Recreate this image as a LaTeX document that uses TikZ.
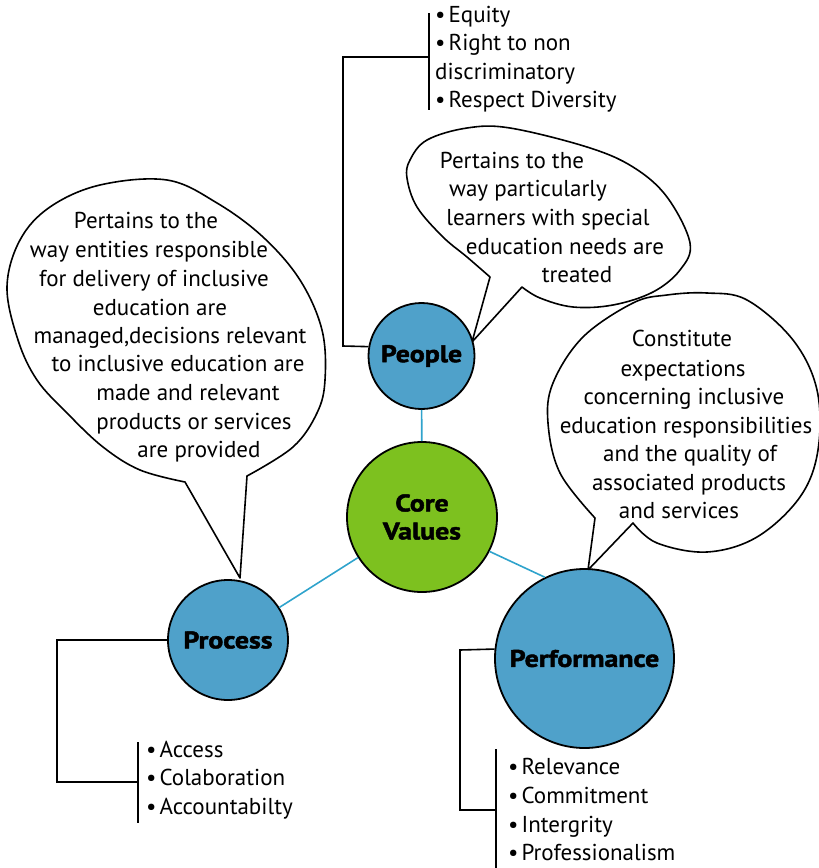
\documentclass[tikz,border=0pt]{standalone}
\usepackage{fontspec}
\setmainfont{PT Sans}
\newfontfamily\heavyfont{PT Sans}[FakeBold=2, FakeStretch=1.16]
\definecolor{nodeblue}{HTML}{4FA1CA}
\definecolor{coregreen}{HTML}{7DC11F}
\definecolor{linkblue}{HTML}{2FA3CC}
\newcommand\bu{•\kern3pt}
\tikzset{
  bubble/.style={draw=black, line width=1.6pt, fill=white, line join=round},
  btext/.style={anchor=base, inner sep=0pt, font=\fontsize{23}{28}\selectfont},
  bul/.style={anchor=base west, inner sep=0pt, font=\fontsize{23}{28}\selectfont},
  circ/.style={circle, draw=black, line width=1.8pt, inner sep=0pt, align=center,
    font=\fontsize{24}{28}\heavyfont\bfseries},
  link/.style={draw=linkblue, line width=1.6pt},
  brk/.style={draw=black, line width=1.6pt}
}
\begin{document}
\begin{tikzpicture}[x=1pt,y=-1pt]
\useasboundingbox (0,0) rectangle (819,868);

% speech bubbles
\draw[bubble] plot[smooth, tension=0.6] coordinates {(247,476) (293,447) (317,413) (325,380) (322,330) (300,280) (263,237) (217,203) (167,180) (100,185) (50,207) (20,240) (7,287) (18,340) (37,380) (67,413) (103,447) (140,470) (185,482)} -- (240,578) -- cycle;
\draw[bubble] plot[smooth, tension=0.6] coordinates {(522,287) (540,298) (573,307) (613,305) (653,292) (680,270) (690,243) (667,197) (633,167) (587,147) (510,128) (467,128) (427,140) (410,160) (407,178) (417,207) (443,237) (467,257) (490,277)} -- (472,342) -- cycle;
\draw[bubble] plot[smooth, tension=0.6] coordinates {(633,523) (657,543) (707,552) (757,537) (800,497) (818,450) (817,390) (793,340) (747,300) (707,293) (667,295) (633,303) (583,337) (553,383) (548,423) (560,473) (595,518)} -- (588,570) -- cycle;

% bubble texts
\foreach \x/\y/\t [count=\i] in {146/228/{Pertains to the}, 149/257/{way entities responsible}, 154/286/{for delivery of inclusive}, 160/315/{education are}, 170/343/{managed,decisions relevant}, 178/371/{to inclusive education are}, 188/400/{made and relevant}, 194/429/{products or services}, 199/457/{are provided}}
  \node[btext] (lt\i) at (\x,\y) {\t};
\foreach \x/\y/\t [count=\i] in {512/168/{Pertains to the}, 528/196/{way particularly}, 548/225/{learners with special}, 565/254/{education needs are}, 577/282/{treated}}
  \node[btext] (pt\i) at (\x,\y) {\t};
\foreach \x/\y/\t [count=\i] in {682/346/{Constitute}, 683/376/{expectations}, 684/404/{concerning inclusive}, 686/433/{education responsibilities}, 690/461/{and the quality of}, 689/490/{associated products}, 679/518/{and services}}
  \node[btext] (ft\i) at (\x,\y) {\t};

% circles
\node[circ, fill=nodeblue, minimum size=106pt] (People) at (421.5,356) {People};
\node[circ, fill=coregreen, minimum size=150pt] (Core) at (422,517) {Core\\Values};
\node[circ, fill=nodeblue, minimum size=120pt] (Process) at (228,640) {Process};
\node[circ, fill=nodeblue, minimum size=179pt] (Perf) at (584.5,658.5) {Performance};

% links
\draw[link] (People) -- (Core);
\draw[link] (Core) -- (Process);
\draw[link] (Core.-27) -- (Perf.116);

% brackets
\coordinate (pa) at (343,346);
\coordinate (pb) at (343,57);
\coordinate (pc) at (429,57);
\coordinate (pt) at (429,13);
\coordinate (pd) at (429,110);
\draw[brk] (People.170) -- (pa) -- (pb) -- (pc);
\draw[brk] (pt) -- (pd);

\coordinate (qa) at (57,640);
\coordinate (qb) at (57,782);
\coordinate (qc) at (138,782);
\coordinate (qt) at (138,742);
\coordinate (qd) at (138,823);
\draw[brk] (Process.west) -- (qa) -- (qb) -- (qc);
\draw[brk] (qt) -- (qd);

\coordinate (ra) at (460,650);
\coordinate (rb) at (460,810);
\coordinate (rc) at (496,810);
\coordinate (rt) at (496,749);
\coordinate (rd) at (496,868);
\draw[brk] (Perf.174) -- (ra) -- (rb) -- (rc);
\draw[brk] (rt) -- (rd);

% bullet lists
\node[bul] (e1) at (435,22) {\bu Equity};
\node[bul] (e2) at (435,50) {\bu Right to non};
\node[bul] (e3) at (435,79) {discriminatory};
\node[bul] (e4) at (435,107) {\bu Respect Diversity};

\node[bul] (a1) at (146,757) {\bu Access};
\node[bul] (a2) at (146,785) {\bu Colaboration};
\node[bul] (a3) at (146,814) {\bu Accountabilty};

\node[bul] (r1) at (508,774) {\bu Relevance};
\node[bul] (r2) at (508,803) {\bu Commitment};
\node[bul] (r3) at (508,832) {\bu Intergrity};
\node[bul] (r4) at (508,860) {\bu Professionalism};
\end{tikzpicture}
\end{document}
